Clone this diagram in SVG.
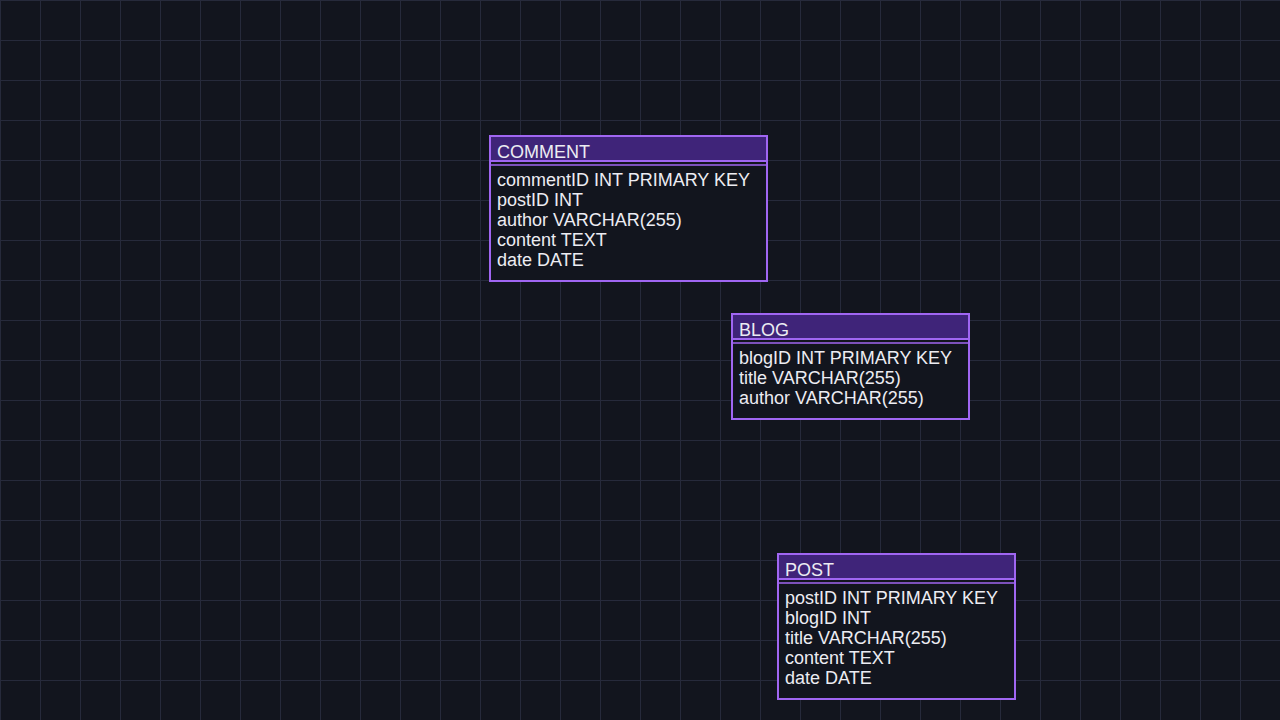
<svg xmlns="http://www.w3.org/2000/svg" width="1280" height="720" viewBox="0 0 1280 720">
  <defs>
    <pattern id="grid" x="0" y="0" width="40" height="40" patternUnits="userSpaceOnUse">
      <rect width="40" height="40" fill="#12151e"/>
      <path d="M0.5 0 V40 M0 0.5 H40" stroke="#262a3b" stroke-width="1" fill="none"/>
    </pattern>
    <style>
      .frame { fill: #12151e; stroke: #a066f2; stroke-width: 2; }
      .head { fill: #3f2479; stroke: #a066f2; stroke-width: 2; }
      .sep { stroke: #a066f2; stroke-width: 1.5; }
      text { font-family: "Liberation Sans", Arial, sans-serif; font-size: 18px; fill: #ececf2; }
    </style>
  </defs>

  <rect width="1280" height="720" fill="url(#grid)"/>

  <g id="connectors"></g>

  <g id="comment">
    <rect class="frame" x="490" y="136" width="277" height="145"/>
    <rect class="head" x="490" y="136" width="277" height="25"/>
    <line class="sep" x1="490" y1="165" x2="767" y2="165"/>
    <text x="497" y="158">COMMENT</text>
    <text x="497" y="186">commentID INT PRIMARY KEY</text>
    <text x="497" y="206">postID INT</text>
    <text x="497" y="226">author VARCHAR(255)</text>
    <text x="497" y="246">content TEXT</text>
    <text x="497" y="266">date DATE</text>
  </g>

  <g id="blog">
    <rect class="frame" x="732" y="314" width="237" height="105"/>
    <rect class="head" x="732" y="314" width="237" height="25"/>
    <line class="sep" x1="732" y1="343" x2="969" y2="343"/>
    <text x="739" y="336">BLOG</text>
    <text x="739" y="364">blogID INT PRIMARY KEY</text>
    <text x="739" y="384">title VARCHAR(255)</text>
    <text x="739" y="404">author VARCHAR(255)</text>
  </g>

  <g id="post">
    <rect class="frame" x="778" y="554" width="237" height="145"/>
    <rect class="head" x="778" y="554" width="237" height="25"/>
    <line class="sep" x1="778" y1="583" x2="1015" y2="583"/>
    <text x="785" y="576">POST</text>
    <text x="785" y="604">postID INT PRIMARY KEY</text>
    <text x="785" y="624">blogID INT</text>
    <text x="785" y="644">title VARCHAR(255)</text>
    <text x="785" y="664">content TEXT</text>
    <text x="785" y="684">date DATE</text>
  </g>
</svg>
